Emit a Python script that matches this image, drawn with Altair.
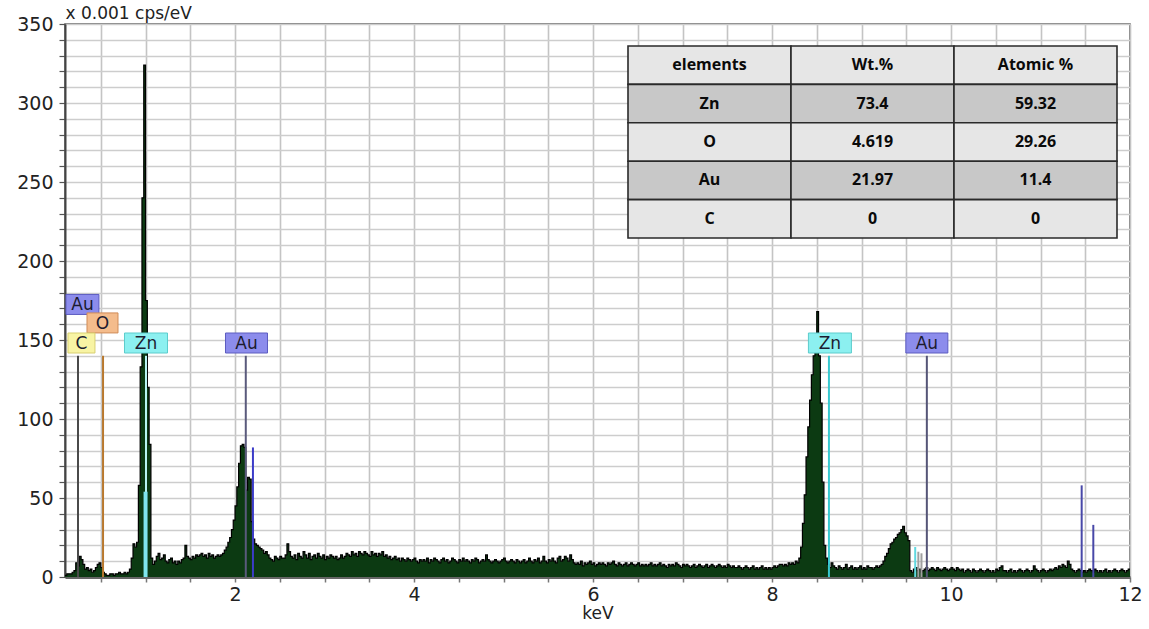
import altair as alt
import pandas as pd

# ---------------- spectrum counts (x 0.001 cps/eV), one row per 0.5 keV, 0.02 keV channels from 0.10 keV
spectrum_rows = [
    [1, 2, 2, 2, 3, 4, 9, 7, 13, 11, 8, 5, 6, 4, 5, 3, 4, 6, 8, 9, 6, 3, 2, 1, 1],
    [2, 2, 1, 2, 2, 3, 2, 2, 3, 2, 3, 5, 12, 21, 19, 22, 58, 133, 240, 324, 175, 120, 84, 12, 8],
    [10, 13, 15, 11, 12, 14, 10, 9, 11, 12, 9, 10, 8, 10, 9, 11, 12, 20, 13, 12, 11, 13, 12, 14, 13],
    [14, 15, 13, 14, 12, 15, 13, 14, 12, 13, 14, 13, 14, 15, 17, 19, 22, 25, 30, 36, 45, 57, 72, 83, 84],
    [82, 55, 63, 62, 35, 24, 21, 20, 19, 18, 17, 15, 16, 14, 12, 11, 10, 13, 12, 11, 13, 12, 12, 14, 21],
    [16, 13, 12, 14, 11, 15, 13, 12, 16, 14, 12, 15, 11, 13, 14, 12, 15, 13, 12, 14, 11, 13, 12, 14, 13],
    [12, 13, 11, 12, 14, 12, 13, 15, 14, 13, 16, 14, 15, 13, 16, 15, 14, 16, 15, 14, 13, 16, 14, 15, 13],
    [15, 14, 16, 13, 14, 12, 13, 11, 12, 13, 11, 12, 10, 12, 11, 10, 12, 11, 10, 11, 12, 10, 9, 11, 10],
    [11, 10, 12, 9, 11, 10, 12, 11, 10, 9, 11, 12, 10, 11, 9, 10, 12, 11, 10, 9, 11, 10, 12, 10, 11],
    [10, 9, 11, 10, 12, 11, 9, 10, 11, 10, 14, 11, 10, 9, 10, 11, 10, 9, 10, 11, 12, 10, 9, 10, 11],
    [10, 9, 11, 10, 9, 10, 11, 9, 10, 12, 10, 9, 11, 10, 12, 9, 10, 13, 10, 9, 11, 10, 12, 10, 9],
    [12, 13, 10, 11, 13, 12, 10, 14, 11, 9, 8, 9, 8, 10, 7, 9, 8, 9, 10, 8, 9, 7, 8, 9, 8],
    [9, 8, 7, 9, 8, 9, 10, 8, 7, 9, 8, 7, 8, 9, 7, 8, 9, 8, 7, 8, 9, 7, 8, 7, 8],
    [7, 8, 9, 7, 8, 7, 8, 9, 7, 8, 7, 6, 8, 7, 8, 7, 9, 8, 7, 6, 8, 7, 8, 7, 6],
    [7, 8, 6, 7, 8, 7, 6, 7, 8, 6, 7, 8, 7, 6, 7, 8, 7, 6, 7, 6, 8, 7, 6, 7, 6],
    [6, 7, 6, 5, 6, 7, 6, 5, 6, 7, 5, 6, 5, 6, 7, 5, 6, 5, 6, 5, 6, 7, 6, 7, 8],
    [8, 7, 8, 7, 9, 8, 9, 8, 10, 9, 12, 19, 34, 52, 76, 95, 112, 128, 140, 150, 168, 140, 110, 60, 20],
    [12, 8, 6, 9, 7, 6, 5, 7, 6, 5, 6, 8, 5, 6, 7, 5, 6, 5, 6, 7, 5, 6, 5, 7, 6],
    [6, 5, 6, 7, 6, 7, 8, 10, 13, 15, 18, 21, 22, 24, 25, 27, 28, 30, 32, 28, 26, 23, 4, 3, 5],
    [6, 4, 5, 3, 4, 5, 6, 4, 5, 6, 5, 4, 6, 5, 4, 5, 6, 5, 4, 5, 6, 5, 4, 6, 5],
    [4, 5, 3, 4, 5, 4, 3, 5, 4, 3, 4, 5, 4, 3, 4, 5, 4, 3, 4, 3, 5, 4, 6, 7, 4],
    [4, 3, 4, 5, 3, 4, 3, 4, 5, 4, 3, 4, 5, 4, 3, 4, 7, 5, 4, 3, 4, 5, 4, 3, 4],
    [5, 4, 5, 6, 5, 7, 6, 8, 7, 6, 10, 8, 5, 4, 3, 4, 5, 4, 3, 4, 3, 4, 5, 4, 3],
    [5, 4, 3, 4, 3, 4, 5, 3, 4, 3, 4, 5, 4, 3, 4, 5, 4, 3, 4, 5],
]

# ---------------- element marker lines
line_kev = [0.245, 0.525, 1.005, 2.12, 2.20, 8.636, 9.73, 11.46, 11.59, 9.60, 9.635, 9.67]
line_top = [140, 140, 140, 140, 82, 140, 140, 58, 33, 19, 16, 15]
line_color = ["#4a4a4a", "#b8782e", "#b8f4f4", "#5a5a7c", "#3c3cc8", "#38c8d0",
              "#555577", "#4848a8", "#4848a8", "#60d8e0", "#a0a0a0", "#a0a0a0"]

# Zn L line band (cyan) inside the peak
zn_band_kev = [1.0]
zn_band_top = [54]

# ---------------- element labels
label_text = ["Au", "O", "C", "Zn", "Au", "Zn", "Au"]
label_kev = [0.295, 0.519, 0.284, 1.005, 2.128, 8.647, 9.73]
label_level = [172.5, 160.8, 148.1, 148.1, 148.1, 148.1, 148.1]

# ---------------- quantification table
table_columns = ["elements", "Wt.%", "Atomic %"]
table_elements = ["Zn", "O", "Au", "C"]
table_wt = ["73.4", "4.619", "21.97", "0"]
table_atomic = ["59.32", "29.26", "11.4", "0"]

# ---------------- axes
x_tick_values = [0.5, 1.0, 1.5, 2.0, 2.5, 3.0, 3.5, 4.0, 4.5, 5.0, 5.5, 6.0,
                 6.5, 7.0, 7.5, 8.0, 8.5, 9.0, 9.5, 10.0, 10.5, 11.0, 11.5, 12.0]
y_tick_values = [0, 10, 20, 30, 40, 50, 60, 70, 80, 90, 100, 110, 120, 130, 140, 150, 160, 170,
                 180, 190, 200, 210, 220, 230, 240, 250, 260, 270, 280, 290, 300, 310, 320, 330,
                 340, 350]

# =====================================================================
counts = [c for row in spectrum_rows for c in row]
energy = [round(0.10 + 0.02 * i, 2) for i in range(len(counts))]
spec_df = pd.DataFrame({"keV": energy + [12.0], "cps": counts + [counts[-1]]})

W, H = 1065, 553
FONT = "DejaVu Sans"

x_scale = alt.Scale(domain=[0.1, 12], nice=False, zero=False)
y_scale = alt.Scale(domain=[0, 350], nice=False)

x_axis = alt.Axis(
    values=x_tick_values, tickCount=200,
    labelExpr="datum.value % 2 === 0 ? format(datum.value, 'd') : ''",
    title="keV", titleFont=FONT, titleFontSize=17, titleFontWeight="normal",
    titleColor="#222", titlePadding=1,
    labelFont=FONT, labelFontSize=19, labelColor="#222", labelPadding=3,
    labelFlush=False, labelOverlap=False,
    grid=True, gridColor="#c4c4c4", gridWidth=1.6,
    tickColor="#777", tickSize=5, tickWidth=1.5,
    domainColor="#666", domainWidth=3,
)
y_axis = alt.Axis(
    values=y_tick_values, tickCount=200,
    labelExpr="datum.value % 50 === 0 ? format(datum.value, 'd') : ''",
    title="x 0.001 cps/eV", titleFont=FONT, titleFontSize=17, titleFontWeight="normal",
    titleColor="#222", titleAngle=0, titleAlign="left", titleBaseline="alphabetic",
    titleX=0, titleY=-6,
    labelFont=FONT, labelFontSize=19, labelColor="#222", labelPadding=6,
    labelFlush=False, labelOverlap=False,
    grid=True, gridColor="#cdcdcd", gridWidth=1.4,
    tickColor="#555", tickSize=6, tickWidth=1.2,
    domainColor="#444", domainWidth=2,
)

area = alt.Chart(spec_df).mark_area(interpolate="step-after", color="#0c3a12").encode(
    x=alt.X("keV:Q", scale=x_scale, axis=x_axis),
    y=alt.Y("cps:Q", scale=y_scale, axis=y_axis),
)
outline = alt.Chart(spec_df).mark_line(interpolate="step-after", color="#000000", strokeWidth=1.2).encode(
    x=alt.X("keV:Q", scale=x_scale),
    y=alt.Y("cps:Q", scale=y_scale),
)

lines_df = pd.DataFrame({"keV": line_kev, "top": line_top, "base": [0] * len(line_kev), "c": line_color})
rules = alt.Chart(lines_df).mark_rule(strokeWidth=2).encode(
    x=alt.X("keV:Q", scale=x_scale),
    y=alt.Y("base:Q", scale=y_scale),
    y2="top:Q",
    color=alt.Color("c:N", scale=None),
)

band_df = pd.DataFrame({"keV": zn_band_kev, "top": zn_band_top, "base": [0]})
zn_band = alt.Chart(band_df).mark_rule(strokeWidth=4, color="#7fe6ee").encode(
    x=alt.X("keV:Q", scale=x_scale),
    y=alt.Y("base:Q", scale=y_scale),
    y2="top:Q",
)

box_style = {
    "Au": ("#8c8cec", "#5c5cc0"),
    "Zn": ("#8cf0f0", "#5ccccc"),
    "C": ("#f8f4a4", "#d8cf70"),
    "O": ("#f4bc8c", "#d08c58"),
}
box_width = {"Au": 42, "Zn": 43, "C": 27, "O": 31}

label_layers = []
for i, (t, e, lv) in enumerate(zip(label_text, label_kev, label_level)):
    df = pd.DataFrame({"keV": [e], "lv": [lv], "t": [t]})
    fill, stroke = box_style[t]
    w = box_width[t]
    if i == 0:
        w = 33
    box = alt.Chart(df).mark_rect(width=w, height=20, fill=fill, stroke=stroke, strokeWidth=1).encode(
        x=alt.X("keV:Q", scale=x_scale),
        y=alt.Y("lv:Q", scale=y_scale),
    )
    txt = alt.Chart(df).mark_text(font=FONT, fontSize=17, color="#1c1c30", baseline="middle", dy=1).encode(
        x=alt.X("keV:Q", scale=x_scale),
        y=alt.Y("lv:Q", scale=y_scale),
        text="t:N",
    )
    label_layers += [box, txt]

main = alt.layer(area, outline, rules, zn_band, *label_layers)

# table
cells = []
row_vals = [table_columns] + [[a, b, c] for a, b, c in zip(table_elements, table_wt, table_atomic)]
row_fill = ["#e6e6e6", "#c8c8c8", "#e6e6e6", "#c8c8c8", "#e6e6e6"]
for r, vals in enumerate(row_vals):
    for c, v in enumerate(vals):
        cells.append({"row": r, "col": c, "text": v, "fill": row_fill[r]})
table_df = pd.DataFrame(cells)

tx = alt.X("col:O", scale=alt.Scale(domain=[0, 1, 2], range=[563, 1052], paddingInner=0, paddingOuter=0), axis=None)
ty = alt.Y("row:O", scale=alt.Scale(domain=[0, 1, 2, 3, 4], range=[22, 214], paddingInner=0, paddingOuter=0), axis=None)

table_rect = alt.Chart(table_df).mark_rect(stroke="#2a2a2a", strokeWidth=1.6).encode(
    x=tx, y=ty, fill=alt.Fill("fill:N", scale=None),
)
table_text = alt.Chart(table_df).mark_text(font="Open Sans", fontWeight="bold", fontSize=16, color="#0a0a0a").encode(
    x=tx, y=ty, text="text:N",
)
table = alt.layer(table_rect, table_text)

chart = alt.layer(main, table).resolve_scale(x="independent", y="independent").properties(
    width=W, height=H,
    autosize=alt.AutoSizeParams(type="none"),
    padding={"left": 65, "top": 24, "right": 19, "bottom": 52},
    background="white",
).configure_view(stroke="#555555", strokeWidth=1.5)

chart.save("out.html", embed_options={"renderer": "svg", "actions": False})
